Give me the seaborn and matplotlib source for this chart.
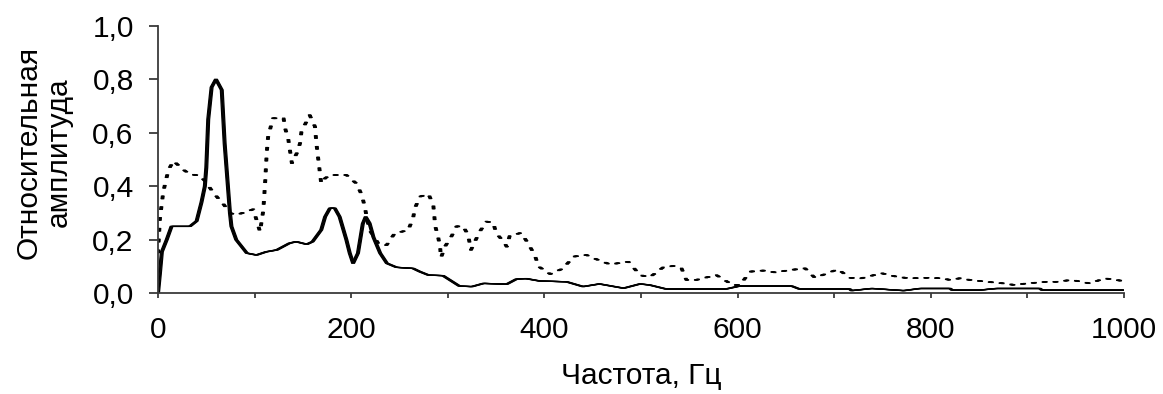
import numpy as np
import pandas as pd
import matplotlib
matplotlib.use("Agg")
import matplotlib.pyplot as plt
from matplotlib.transforms import offset_copy
from matplotlib.ticker import MultipleLocator, FuncFormatter
import seaborn as sns

# ---- data ----
freq_solid = [0, 2, 4, 9, 14, 19, 33, 40, 45, 48.5, 50, 52, 55.5, 60, 66, 69, 73, 74.5, 76, 81,
              92, 102, 112, 123, 136, 143, 154, 160, 169, 173, 178, 183, 188, 195, 198.5, 202,
              207, 212, 215, 219, 223, 230, 237, 247, 264, 271, 280, 295, 312, 325, 337, 361,
              371, 381, 395, 423, 440, 457, 482, 499, 509, 526, 588, 602, 656, 664, 716, 718,
              739, 772, 789, 820, 822, 851, 868, 913, 915, 1000]
amp_solid = [0.0, 0.075, 0.155, 0.20, 0.25, 0.25, 0.25, 0.27, 0.34, 0.40, 0.47, 0.65, 0.77, 0.80,
             0.76, 0.56, 0.37, 0.30, 0.25, 0.20, 0.15, 0.143, 0.155, 0.162, 0.187, 0.193, 0.183,
             0.193, 0.237, 0.286, 0.318, 0.318, 0.286, 0.20, 0.15, 0.112, 0.15, 0.26, 0.286,
             0.262, 0.21, 0.15, 0.112, 0.097, 0.093, 0.081, 0.068, 0.066, 0.027, 0.025, 0.037,
             0.034, 0.053, 0.055, 0.046, 0.043, 0.025, 0.035, 0.019, 0.035, 0.031, 0.016, 0.016,
             0.027, 0.027, 0.016, 0.016, 0.010, 0.018, 0.010, 0.018, 0.018, 0.012, 0.012, 0.018,
             0.018, 0.012, 0.012]

freq_dotted = [0, 2, 5.5, 10.7, 16, 25, 33, 43, 48.6, 55.5, 62, 67, 74.5, 81, 92, 98.6, 102,
               105.6, 109, 111, 112.5, 114, 119, 130, 131.6, 135, 138.6, 143.6, 147, 148.5, 157,
               162.5, 164, 166, 167.7, 169, 173, 178, 195, 205.5, 211, 214, 216, 219, 228, 236.6,
               245, 259, 264, 266, 271, 280, 285, 286, 287, 290, 292, 293, 297, 304, 309, 316,
               321, 324, 328, 333, 340, 347, 350, 359, 361, 364, 376, 383, 390, 394, 406, 419.5,
               430, 443.6, 454, 468, 487, 499, 509, 523, 533.6, 542, 547, 557, 578, 595, 602.5,
               613, 626.6, 639, 654, 670, 680, 685.6, 704, 716, 728, 749, 764.5, 778, 797, 811,
               820, 830, 840.6, 858, 875, 887, 899, 920, 930, 945.6, 964.6, 980, 997]
amp_dotted = [0.15, 0.28, 0.38, 0.46, 0.495, 0.465, 0.445, 0.44, 0.42, 0.385, 0.356, 0.337, 0.30,
              0.293, 0.305, 0.314, 0.274, 0.23, 0.31, 0.42, 0.523, 0.585, 0.654, 0.654, 0.617,
              0.573, 0.486, 0.523, 0.56, 0.604, 0.666, 0.623, 0.56, 0.498, 0.448, 0.41, 0.43,
              0.442, 0.442, 0.41, 0.367, 0.324, 0.286, 0.236, 0.187, 0.18, 0.224, 0.236, 0.28,
              0.318, 0.361, 0.371, 0.33, 0.29, 0.251, 0.21, 0.174, 0.133, 0.174, 0.214, 0.25,
              0.25, 0.218, 0.162, 0.193, 0.23, 0.268, 0.264, 0.226, 0.187, 0.174, 0.214, 0.226,
              0.187, 0.143, 0.10, 0.072, 0.093, 0.137, 0.143, 0.127, 0.108, 0.118, 0.068, 0.06,
              0.097, 0.102, 0.093, 0.05, 0.05, 0.068, 0.031, 0.031, 0.081, 0.085, 0.078, 0.087,
              0.093, 0.058, 0.065, 0.09, 0.058, 0.056, 0.075, 0.062, 0.056, 0.058, 0.056, 0.05,
              0.056, 0.05, 0.043, 0.037, 0.031, 0.037, 0.043, 0.043, 0.05, 0.037, 0.056, 0.047]

x_label = "Частота, Гц"
y_label = "Относительная\nамплитуда"

# ---- style ----
sns.set_theme(style="ticks")
plt.rcParams["font.family"] = ["Liberation Sans", "DejaVu Sans"]
plt.rcParams["lines.scale_dashes"] = False
plt.rcParams["lines.solid_capstyle"] = "butt"
axis_color = "#3a3a3a"
fs = 21.5

fig = plt.figure(figsize=(11.63, 3.94), dpi=100)
ax = fig.add_axes([158 / 1163, 1 - 293.3 / 394, (1124 - 158) / 1163, (293.3 - 25.7) / 394])

df_solid = pd.DataFrame({"f": freq_solid, "a": amp_solid})
df_dot = pd.DataFrame({"f": freq_dotted, "a": amp_dotted})

# pen effect of the scanned original: strokes are wider horizontally
for dx in (-1.4, -0.7, 0.0, 0.7, 1.4):
    tr = offset_copy(ax.transData, fig=fig, x=dx, y=0, units="dots")
    sns.lineplot(data=df_solid, x="f", y="a", ax=ax, color="black", lw=0.9,
                 estimator=None, sort=False, transform=tr)
for dx in (-1.2, -0.6, 0.0, 0.6, 1.2):
    tr = offset_copy(ax.transData, fig=fig, x=dx, y=0, units="dots")
    sns.lineplot(data=df_dot, x="f", y="a", ax=ax, color="black", lw=1.1,
                 estimator=None, sort=False, transform=tr,
                 linestyle=(0, (2.6, 5.2)))

ax.set_xlim(0, 1000)
ax.set_ylim(0, 1.0)
ax.xaxis.set_major_locator(MultipleLocator(100))
ax.xaxis.set_major_formatter(FuncFormatter(lambda v, p: f"{int(round(v))}" if int(round(v)) % 200 == 0 else ""))
ax.yaxis.set_major_locator(MultipleLocator(0.2))
ax.yaxis.set_major_formatter(FuncFormatter(lambda v, p: f"{v:.1f}".replace(".", ",")))

sns.despine(ax=ax)
for s in ("left", "bottom"):
    ax.spines[s].set_color(axis_color)
    ax.spines[s].set_linewidth(1.3)
ax.tick_params(axis="x", direction="out", length=3.6, width=1.3, color=axis_color,
               pad=12.5, labelsize=fs, labelcolor="black")
ax.tick_params(axis="y", direction="out", length=6.5, width=1.3, color=axis_color,
               pad=11, labelsize=fs, labelcolor="black")

ax.set_xlabel(x_label, fontsize=fs, color="black", va="center")
ax.xaxis.set_label_coords(0.5, -0.31)
ax.set_ylabel(y_label, fontsize=fs, color="black", va="center", linespacing=1.1)
ax.yaxis.set_label_coords(-0.118, 0.526)

fig.savefig("out.png", dpi=100, facecolor="white")
